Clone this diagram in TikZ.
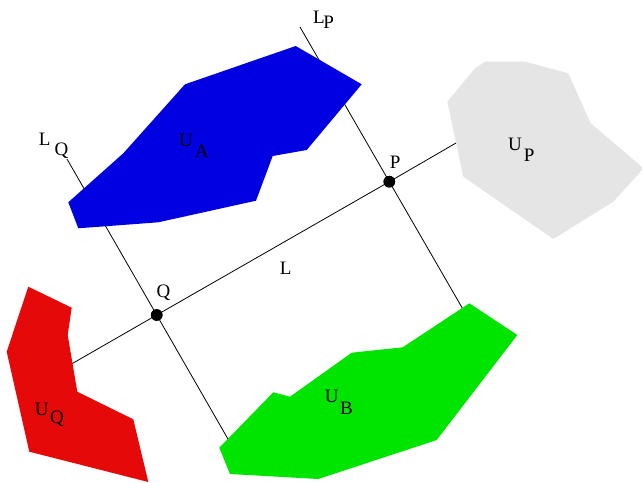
\documentclass[tikz,border=0pt]{standalone}
\usepackage{fontspec}
\setmainfont{Liberation Serif}
\definecolor{cblue}{RGB}{0,0,225}
\definecolor{cred}{RGB}{229,9,9}
\definecolor{cgreen}{RGB}{0,229,0}
\definecolor{cgray}{RGB}{229,229,229}
\newcommand\sublbl[4]{#1\kern#3pt\raisebox{-#4pt}{#2}}
\begin{document}
\begin{tikzpicture}[x=1pt,y=-1pt,
  lbl/.style={inner sep=0pt,anchor=base west,font=\fontsize{19}{19}\selectfont},
  dotnode/.style={circle,fill=black,inner sep=0pt,minimum size=11.6pt},
  ln/.style={draw=black,line width=0.8pt},
  region/.style={draw=none}]
\useasboundingbox (0,0) rectangle (642,482);
% intersection points
\node[dotnode] (Q) at (156.7,315) {};
\node[dotnode] (P) at (389.3,181.7) {};
% free ends of the lines
\coordinate (Lw) at (60,370.6);
\coordinate (Le) at (470,134.9);
\coordinate (LQt) at (67,159);
\coordinate (LQb) at (234.3,450);
\coordinate (LPt) at (300,27);
\coordinate (LPb) at (466.3,315);
% lines
\draw[ln] (Lw) -- (Q.center) -- (P.center) -- (Le);
\draw[ln] (LQt) -- (Q.center) -- (LQb);
\draw[ln] (LPt) -- (P.center) -- (LPb);
% regions
\fill[cblue] (295.7,46) -- (361.7,84.3) -- (306.7,150) -- (272.7,156) -- (256,200.7)
  -- (158.3,222.3) -- (78.3,228.3) -- (68.3,202.3) -- (123.3,153.3) -- (185,84.3) -- cycle;
\fill[cgray] (485,61.7) -- (525,61.7) -- (568.3,73.3) -- (590.7,123.3) -- (642,167)
  -- (642,170) -- (613.3,201.7) -- (553.3,239) -- (463.3,176.7) -- (447.3,101.7) -- (475,68.3) -- cycle;
\fill[cgreen] (469.3,303.3) -- (517.3,335) -- (436.7,440) -- (318.3,479) -- (230,474)
  -- (219.3,447.7) -- (273.3,392.3) -- (290,396.7) -- (351.7,352.7) -- (402.7,347.3) -- cycle;
\fill[cred] (28.3,286.7) -- (71.7,307.7) -- (67.7,335) -- (77.3,391.7) -- (133.3,419.3)
  -- (148.3,482) -- (29.3,451.7) -- (6.7,351.7) -- cycle;
% dots on top
\fill (Q) circle (5.8pt);
\fill (P) circle (5.8pt);
% labels
\node[lbl] (tUA) at (179,146.7) {\sublbl{U}{A}{2}{10.6}};
\node[lbl] (tUP) at (508,150) {\sublbl{U}{P}{2}{11.7}};
\node[lbl] (tUB) at (324.7,402.3) {\sublbl{U}{B}{1.5}{12}};
\node[lbl] (tUQ) at (34.7,415) {\sublbl{U}{Q}{1.5}{8.7}};
\node[lbl] (tLP) at (313,23.3) {\sublbl{L}{P}{-1.5}{5}};
\node[lbl] (tLQ) at (38.7,145) {\sublbl{L}{Q}{4}{10}};
\node[lbl] (tP) at (389.7,168) {P};
\node[lbl] (tQ) at (156.3,297) {Q};
\node[lbl] (tL) at (279.7,274) {L};
\end{tikzpicture}
\end{document}
